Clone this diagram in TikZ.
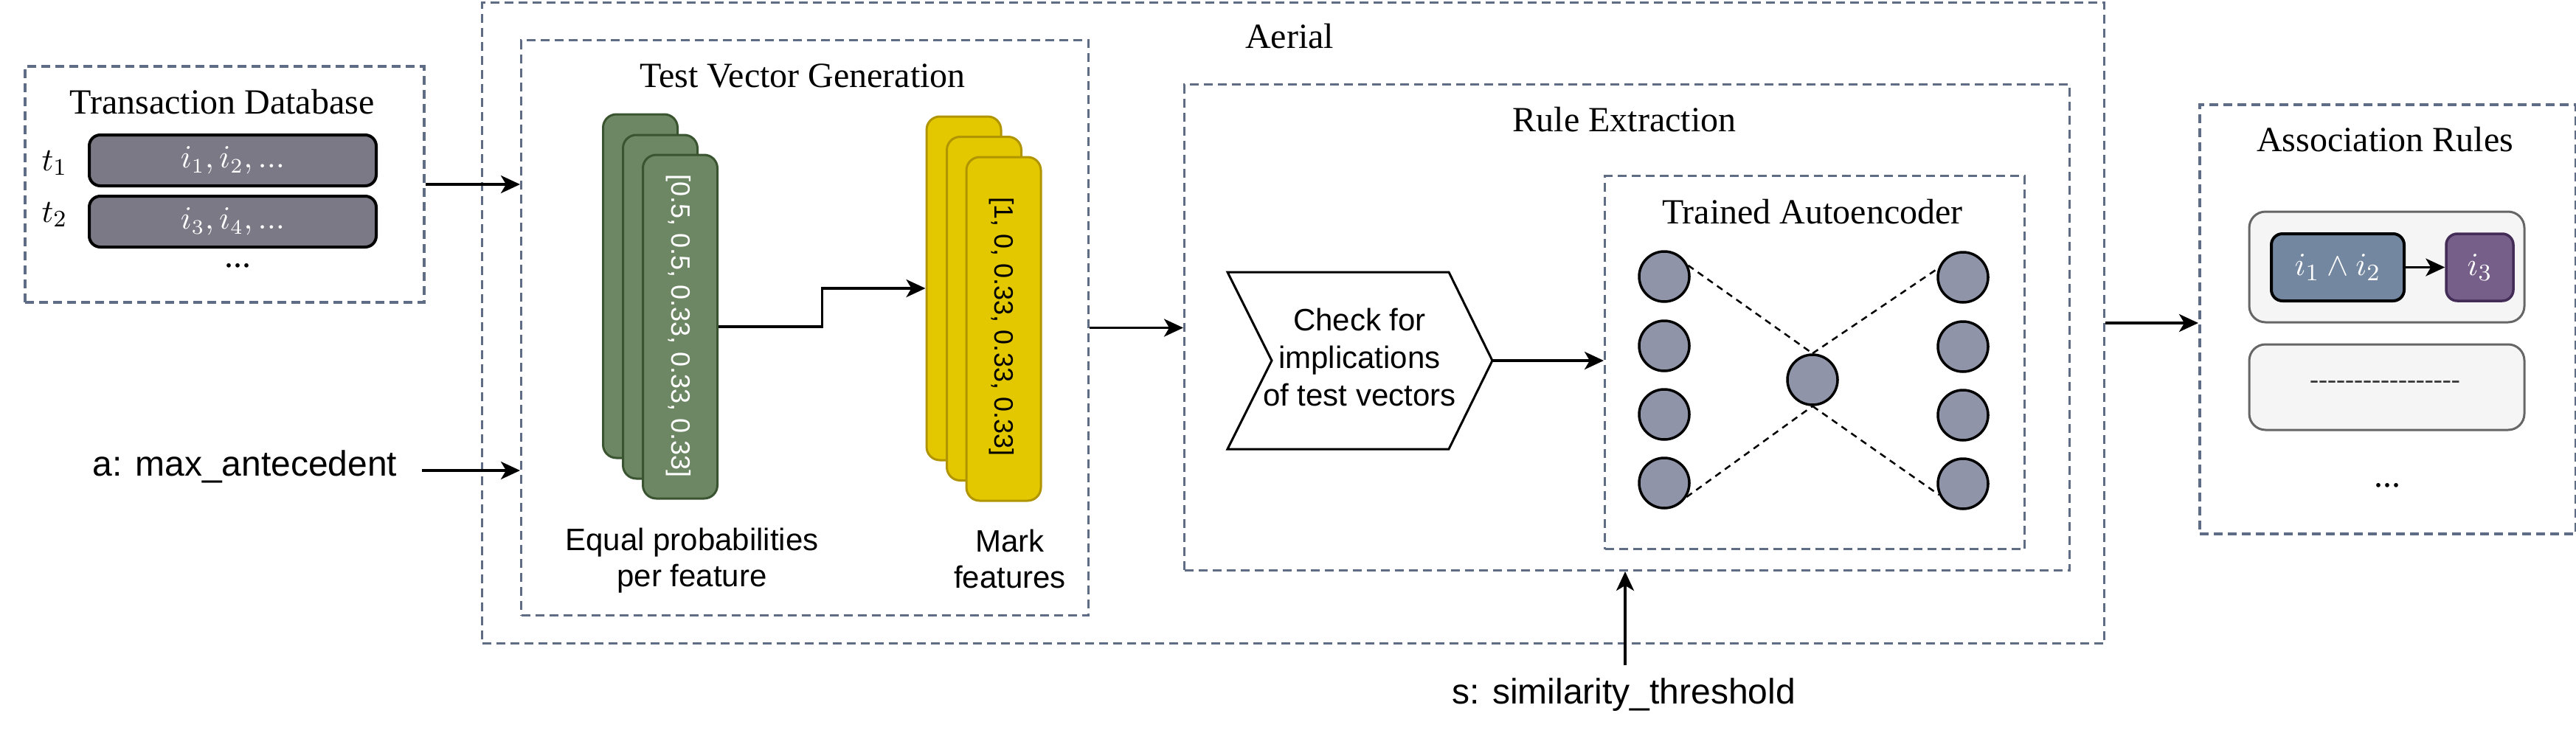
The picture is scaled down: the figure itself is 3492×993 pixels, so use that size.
\documentclass[tikz,border=0pt]{standalone}
\usepackage{fontspec}
\setmainfont{Liberation Serif}
\newfontfamily\arialf{Liberation Sans}
\usetikzlibrary{arrows.meta,calc}
\newcommand{\mymath}[2]{\scalebox{4}{\fontsize{#1}{#1}\selectfont$#2$}}
\definecolor{slate}{RGB}{94,109,133}
\definecolor{rowgrey}{RGB}{122,121,133}
\definecolor{gfill}{RGB}{109,135,100}
\definecolor{gdraw}{RGB}{58,84,49}
\definecolor{yfill}{RGB}{227,200,0}
\definecolor{ydraw}{RGB}{176,149,0}
\definecolor{neur}{RGB}{143,148,168}
\definecolor{rbfill}{RGB}{245,245,245}
\definecolor{rbdraw}{RGB}{102,102,102}
\definecolor{antefill}{RGB}{115,136,160}
\definecolor{consfill}{RGB}{118,96,138}
\definecolor{consdraw}{RGB}{67,45,87}
\definecolor{dashtxt}{RGB}{51,51,51}
\tikzset{
  cont/.style={draw=slate, line width=3pt, dash pattern=on 12pt off 7pt, inner sep=0pt, anchor=north west},
  ttl/.style={font=\fontsize{48}{56}\selectfont, inner sep=0pt},
  sflab/.style={font=\arialf\fontsize{42}{50}\selectfont, align=center, inner sep=0pt},
  parlab/.style={font=\arialf\fontsize{48}{56}\selectfont, inner sep=0pt},
  vecfont/.style={font=\arialf\fontsize{36}{40}\selectfont, inner sep=0pt},
  arr/.style={line width=3.5pt, -{Stealth[length=26pt,width=24pt,inset=7pt]}},
  rowbox/.style={draw=black, line width=4pt, fill=rowgrey, rounded corners=15pt, minimum width=389pt, minimum height=69pt, text=white, inner sep=0pt},
  gcard/.style={draw=gdraw, fill=gfill, line width=3pt, rounded corners=18pt, minimum width=101pt, minimum height=466pt, inner sep=0pt},
  ycard/.style={draw=ydraw, fill=yfill, line width=3pt, rounded corners=18pt, minimum width=101pt, minimum height=466pt, inner sep=0pt},
  neuron/.style={circle, draw=black, line width=3.5pt, fill=neur, minimum size=68pt, inner sep=0pt},
  dline/.style={line width=2.5pt, dash pattern=on 9pt off 7pt},
  rbox/.style={draw=rbdraw, fill=rbfill, line width=3pt, rounded corners=22pt, minimum width=373pt, inner sep=0pt},
}
\begin{document}
\begin{tikzpicture}[x=1pt,y=-1pt]
\useasboundingbox (0,0) rectangle (3492,993);

% Transaction database
\node[cont, line width=4pt, minimum width=541pt, minimum height=320pt] (tdb) at (32,88) {};
\node[ttl] (tdbt) at (301,138) {Transaction Database};
\node[rowbox] (row1) at (315.5,217.5) {\mymath{10.5}{i_1, i_2, ...}};
\node[rowbox] (row2) at (315.5,300.5) {\mymath{10.5}{i_3, i_4, ...}};
\node[inner sep=0pt] (t1) at (74,221) {\mymath{11}{t_1}};
\node[inner sep=0pt] (t2) at (74,291) {\mymath{11}{t_2}};
\node[font=\fontsize{48}{50}\selectfont, inner sep=0pt] (tdots) at (322,360) {...};

% Aerial
\node[cont, minimum width=2199pt, minimum height=869pt] (aer) at (652,2) {};
\node[ttl] (aert) at (1748,49) {Aerial};

% Test vector generation
\node[cont, minimum width=769pt, minimum height=780pt] (tvg) at (705,53) {};
\node[ttl] (tvgt) at (1088,103) {Test Vector Generation};
\node[gcard] (g1) at (868,388) {};
\node[gcard] (g2) at (895,416) {};
\node[gcard] (g3) at (922,443) {};
\node[vecfont, rotate=-90, text=white] (g3t) at (920,442) {[0.5, 0.5, 0.33, 0.33, 0.33]};
\node[ycard] (y1) at (1306.5,391) {};
\node[ycard] (y2) at (1334,418.5) {};
\node[ycard] (y3) at (1360.5,446) {};
\node[vecfont, rotate=-90, text=black] (y3t) at (1358,443) {[1, 0, 0.33, 0.33, 0.33]};
\node[sflab, font=\arialf\fontsize{42}{49}\selectfont] (glab) at (938,760) {Equal probabilities\\per feature};
\node[sflab, font=\arialf\fontsize{42}{49}\selectfont] (ylab) at (1369,758) {Mark\\features};
\draw[arr] (g3.east) -| ($(g3.east)!0.5!(y1.west)$) |- (y1.west);

% Rule extraction
\node[cont, minimum width=1200pt, minimum height=659pt] (re) at (1604,113) {};
\node[ttl] (ret) at (2202,162) {Rule Extraction};
\draw[line width=3pt, fill=white] (1664,369) -- (1964,369) -- (2023,489) -- (1964,609) -- (1664,609) -- (1724,489) -- cycle;
\coordinate (chktip) at (2023,489);
\node[sflab, font=\arialf\fontsize{42}{51}\selectfont] (chk) at (1843,484) {Check for\\implications\\of test vectors};

% Trained autoencoder
\node[cont, minimum width=569pt, minimum height=506pt] (ta) at (2174,237) {};
\node[ttl] (tat) at (2457,287) {Trained Autoencoder};
\node[neuron] (nl1) at (2256,375) {};
\node[neuron] (nl2) at (2256,469) {};
\node[neuron] (nl3) at (2256,562) {};
\node[neuron] (nl4) at (2256,655) {};
\node[neuron] (nr1) at (2661,376) {};
\node[neuron] (nr2) at (2661,470) {};
\node[neuron] (nr3) at (2661,563) {};
\node[neuron] (nr4) at (2661,656) {};
\node[neuron] (nc) at (2457,515) {};
\draw[dline] (nl1.25) -- (nc.north);
\draw[dline] (nc.north) -- (nr1.160);
\draw[dline] (nl4.-32) -- (nc.south);
\draw[dline] (nc.south) -- (nr4.-155);
\draw[arr] (chktip) -- (chktip -| ta.west);

% Association rules
\node[cont, line width=4pt, minimum width=510pt, minimum height=582pt] (ar) at (2980,140) {};
\node[ttl] (art) at (3233,189) {Association Rules};
\node[rbox, minimum height=150pt] (rb1) at (3235.5,362) {};
\node[rbox, minimum height=116pt] (rb2) at (3235.5,525) {};
\node[draw=black, fill=antefill, line width=4pt, rounded corners=15pt, minimum width=180pt, minimum height=91pt, text=white, inner sep=0pt] (ante) at (3169,362.5) {\mymath{11}{i_1 \wedge i_2}};
\node[draw=consdraw, fill=consfill, line width=3.5pt, rounded corners=15pt, minimum width=91pt, minimum height=91pt, text=white, inner sep=0pt] (cons) at (3361.5,362.5) {\mymath{11}{i_3}};
\draw[line width=3pt, -{Stealth[length=26pt,width=24pt,inset=7pt]}] (ante.east) -- (cons.west);
\node[font=\fontsize{36}{40}\selectfont, text=dashtxt, inner sep=0pt] (rb2t) at (3233,522) {-{}-{}-{}-{}-{}-{}-{}-{}-{}-{}-{}-{}-{}-{}-{}-{}-};
\node[font=\fontsize{48}{50}\selectfont, inner sep=0pt] (ardots) at (3236,658) {...};

% Parameters and connectors
\node[parlab] (apar) at (332,633) {a: max\_antecedent};
\coordinate (astart) at (572,638);
\node[parlab] (spar) at (2201,942) {s: similarity\_threshold};
\coordinate (sstart) at (2203,902);

\draw[arr] (tdb.east) -- (tdb.east -| tvg.west);
\draw[arr] (astart) -- (astart -| tvg.west);
\draw[arr] (tvg.east) -- (tvg.east -| re.west);
\draw[arr] (sstart) -- (sstart |- re.south);
\draw[arr] (aer.east) -- (aer.east -| ar.west);
\end{tikzpicture}
\end{document}
